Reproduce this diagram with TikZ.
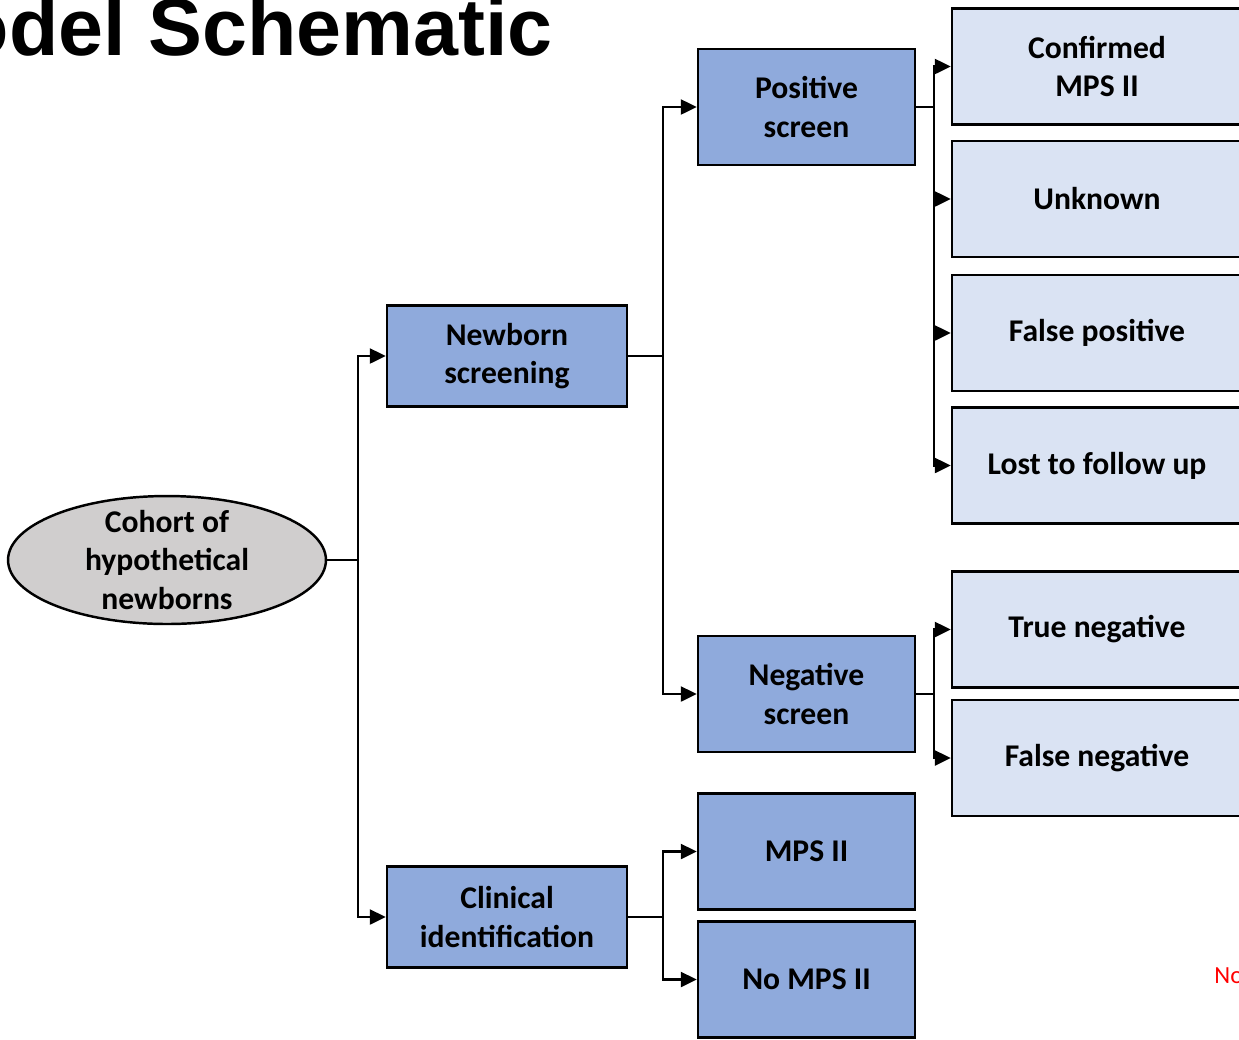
\documentclass[tikz,border=0pt]{standalone}
\usepackage{fontspec}
\setmainfont{Carlito}
\newfontfamily\titlefont{Liberation Sans}
\usetikzlibrary{arrows.meta, shapes.geometric}
\definecolor{midblue}{RGB}{143,170,220}
\definecolor{paleblue}{RGB}{218,227,243}
\definecolor{cohortgray}{RGB}{208,206,206}
\tikzset{
    box/.style={draw=black, line width=1.4pt, fill=midblue, minimum width=4.34cm, minimum height=2.32cm, inner sep=0pt, align=center, font=\bfseries\fontsize{18}{22}\selectfont},
    widebox/.style={box, minimum width=4.8cm, minimum height=2.02cm},
    outbox/.style={box, fill=paleblue, minimum width=5.8cm},
    cohort/.style={ellipse, draw=black, line width=1.4pt, fill=cohortgray, minimum width=6.36cm, minimum height=2.56cm, inner xsep=0pt, inner ysep=-0.17cm, align=center, font=\bfseries\fontsize{18}{22}\selectfont},
    link/.style={line width=1.3pt},
    arr/.style={link, -{Triangle[length=0.32cm, width=0.3cm]}},
}

\begin{document}
\begin{tikzpicture}[x=0.02cm, y=-0.02cm]
    \useasboundingbox (0,0) rectangle (1239,1039);

    % title and note
    \node[anchor=base east, inner sep=0pt, font=\titlefont\bfseries\fontsize{46}{46}\selectfont] (title) at (553,55) {odel Schematic};
    \node[anchor=base west, inner sep=0pt, text=red, font=\fontsize{14}{14}\selectfont] (note) at (1214,983) {No};

    % cohort and first split
    \node[cohort] (cohort) at (167,560) {Cohort of\\hypothetical\\newborns};
    \node[widebox] (newborn) at (507,356) {Newborn\\screening};
    \node[widebox] (clinical) at (507,917) {Clinical\\identification};

    % screening results
    \node[box] (positive) at (806.5,107) {Positive\\screen};
    \node[box] (negative) at (806.5,694) {Negative\\screen};

    % clinical results
    \node[box] (mps) at (806.5,851.5) {MPS II};
    \node[box] (nomps) at (806.5,979.5) {No MPS II};

    % outcomes
    \node[outbox] (confirmed) at (1097,66.5) {Confirmed\\MPS II};
    \node[outbox] (unknown) at (1097,199) {Unknown};
    \node[outbox] (falsepos) at (1097,333) {False positive};
    \node[outbox] (lost) at (1097,465.5) {Lost to follow up};
    \node[outbox] (trueneg) at (1097,629.5) {True negative};
    \node[outbox] (falseneg) at (1097,758) {False negative};

    % connectors
    \draw[link] (cohort.east) -- ++(31,0) coordinate (jcohort);
    \foreach \t in {newborn, clinical}
        \draw[arr] (jcohort) |- (\t.west);

    \draw[link] (newborn.east) -- ++(35,0) coordinate (jnewborn);
    \foreach \t in {positive, negative}
        \draw[arr] (jnewborn) |- (\t.west);

    \draw[link] (clinical.east) -- ++(35,0) coordinate (jclinical);
    \foreach \t in {mps, nomps}
        \draw[arr] (jclinical) |- (\t.west);

    \draw[link] (positive.east) -- ++(18,0) coordinate (jpositive);
    \foreach \t in {confirmed, unknown, falsepos, lost}
        \draw[arr] (jpositive) |- (\t.west);

    \draw[link] (negative.east) -- ++(18,0) coordinate (jnegative);
    \foreach \t in {trueneg, falseneg}
        \draw[arr] (jnegative) |- (\t.west);
\end{tikzpicture}
\end{document}
